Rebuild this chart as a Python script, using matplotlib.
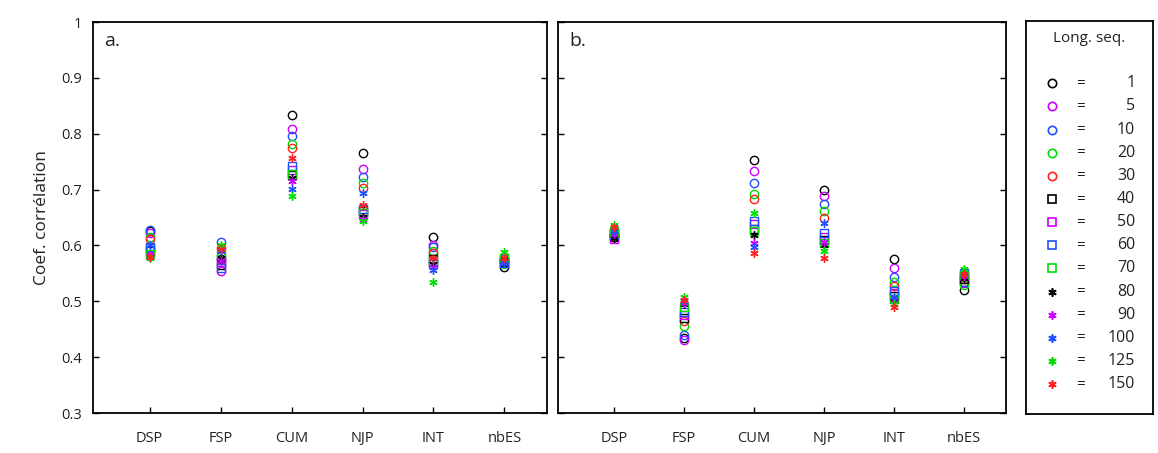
import matplotlib.pyplot as plt

categories = ["DSP", "FSP", "CUM", "NJP", "INT", "nbES"]
seq_lengths = [1, 5, 10, 20, 30, 40, 50, 60, 70, 80, 90, 100, 125, 150]
markers = ["o"] * 5 + ["s"] * 4 + [(6, 2, 0)] * 5
colours = ["black", "#cc00ff", "#1f4fff", "#00dd00", "#ff2020"] * 3
colours = colours[:5] + colours[:4] + colours[:5]

# panel a: one row per sequence length, columns = categories
values_a = [
    [0.625, 0.575, 0.833, 0.766, 0.616, 0.562],
    [0.622, 0.555, 0.808, 0.737, 0.601, 0.570],
    [0.628, 0.606, 0.796, 0.723, 0.598, 0.572],
    [0.615, 0.582, 0.781, 0.711, 0.590, 0.566],
    [0.612, 0.595, 0.774, 0.703, 0.587, 0.575],
    [0.590, 0.565, 0.726, 0.661, 0.575, 0.570],
    [0.595, 0.570, 0.736, 0.656, 0.570, 0.575],
    [0.598, 0.560, 0.742, 0.666, 0.567, 0.568],
    [0.585, 0.586, 0.728, 0.658, 0.572, 0.578],
    [0.580, 0.578, 0.721, 0.651, 0.566, 0.573],
    [0.583, 0.572, 0.716, 0.648, 0.562, 0.572],
    [0.600, 0.590, 0.701, 0.694, 0.556, 0.570],
    [0.577, 0.600, 0.688, 0.643, 0.535, 0.589],
    [0.580, 0.593, 0.757, 0.672, 0.577, 0.578],
]

values_b = [
    [0.618, 0.435, 0.753, 0.700, 0.575, 0.520],
    [0.616, 0.431, 0.734, 0.688, 0.560, 0.533],
    [0.620, 0.440, 0.711, 0.674, 0.543, 0.535],
    [0.630, 0.455, 0.693, 0.662, 0.535, 0.530],
    [0.625, 0.465, 0.684, 0.650, 0.528, 0.540],
    [0.615, 0.470, 0.630, 0.610, 0.510, 0.540],
    [0.612, 0.475, 0.638, 0.615, 0.515, 0.545],
    [0.618, 0.480, 0.643, 0.622, 0.518, 0.550],
    [0.622, 0.490, 0.625, 0.605, 0.505, 0.547],
    [0.614, 0.495, 0.618, 0.600, 0.500, 0.542],
    [0.620, 0.497, 0.605, 0.607, 0.502, 0.545],
    [0.625, 0.500, 0.597, 0.641, 0.507, 0.550],
    [0.637, 0.508, 0.658, 0.590, 0.495, 0.557],
    [0.633, 0.502, 0.587, 0.577, 0.490, 0.548],
]

plt.rcParams["font.family"] = ["Open Sans", "DejaVu Sans"]

fig = plt.figure(figsize=(11.58, 4.53), dpi=100)
ax_a = fig.add_axes([0.0803, 0.0883, 0.392, 0.863])
ax_b = fig.add_axes([0.4819, 0.0883, 0.3869, 0.863])
ax_leg = fig.add_axes([0.886, 0.0860, 0.1097, 0.867])

x = range(1, len(categories) + 1)


def draw_panel(ax, values, label):
    for row, mk, col in zip(values, markers, colours):
        ax.plot(x, row, linestyle="none", marker=mk, ms=6, mfc="none",
                mec=col, mew=1.0)
    ax.set_xlim(0.2, 6.6)
    ax.set_ylim(0.3, 1.0)
    ax.set_xticks(list(x))
    ax.set_xticklabels(categories, fontsize=10.5, color="#222222")
    ax.set_yticks([0.3, 0.4, 0.5, 0.6, 0.7, 0.8, 0.9, 1.0])
    ax.set_yticklabels(["0.3", "0.4", "0.5", "0.6", "0.7", "0.8", "0.9", "1"],
                       fontsize=10.5, color="#222222")
    ax.tick_params(direction="in", length=4, width=1, right=True, pad=8)
    ax.tick_params(axis="x", pad=13)
    for sp in ax.spines.values():
        sp.set_linewidth(1.3)
    ax.text(0.025, 0.975, label, transform=ax.transAxes, fontsize=14,
            va="top", ha="left", color="#222222")


draw_panel(ax_a, values_a, "a.")
draw_panel(ax_b, values_b, "b.")
ax_b.set_yticklabels([])
ax_a.set_ylabel("Coef. corrélation", fontsize=12.5, color="#222222", labelpad=8)

# legend panel
ax_leg.set_xlim(0, 1)
ax_leg.set_ylim(0, 1)
ax_leg.set_xticks([])
ax_leg.set_yticks([])
for sp in ax_leg.spines.values():
    sp.set_linewidth(1.3)
ax_leg.text(0.5, 0.955, "Long. seq.", ha="center", va="center", fontsize=11,
            color="#222222", transform=ax_leg.transAxes)
top, step = 0.842, 0.0589
for i, (n, mk, col) in enumerate(zip(seq_lengths, markers, colours)):
    yy = top - i * step
    ax_leg.plot([0.205], [yy], linestyle="none", marker=mk, ms=6, mfc="none",
                mec=col, mew=1.2)
    ax_leg.text(0.43, yy, "=", ha="center", va="center", fontsize=11,
                color="#222222")
    ax_leg.text(0.86, yy, str(n), ha="right", va="center", fontsize=11.5,
                color="#222222")

fig.savefig("out.png", dpi=100)
